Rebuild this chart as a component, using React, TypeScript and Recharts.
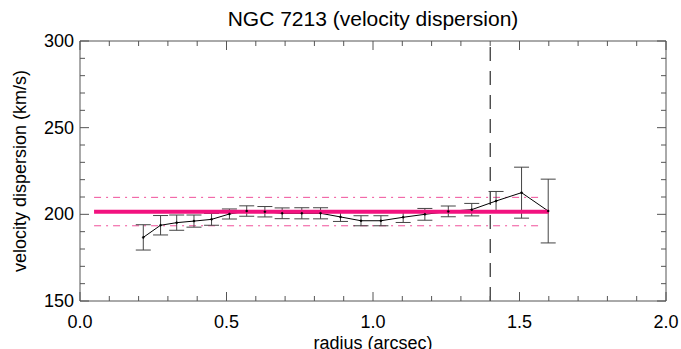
import React from 'react';
import { ComposedChart, Line, XAxis, YAxis, ErrorBar, ReferenceLine } from 'recharts';

const radius = [0.216, 0.275, 0.33, 0.389, 0.449, 0.51, 0.569, 0.631, 0.69, 0.757, 0.821, 0.889, 0.959, 1.027, 1.103, 1.177, 1.257, 1.337, 1.42, 1.507, 1.598];
const sigma = [186.7, 193.7, 195.2, 196.1, 197.1, 200.2, 201.9, 201.5, 200.6, 200.6, 200.6, 198.5, 196.3, 196.3, 198.3, 200.0, 201.7, 202.7, 207.7, 212.5, 201.9];
const sigmaErr = [7.3, 5.6, 4.4, 3.5, 3.4, 2.9, 3.0, 3.0, 3.1, 3.2, 3.2, 2.6, 2.9, 2.9, 3.0, 3.4, 3.1, 3.6, 5.5, 14.7, 18.4];

const meanSigma = 201.5;
const upperSigma = 209.8;
const lowerSigma = 193.4;
const fitStart = 0.048;
const fitEnd = 1.6;
const bandEnd = 1.58;
const cutRadius = 1.4;

const xTicks = [0, 0.1, 0.2, 0.3, 0.4, 0.5, 0.6, 0.7, 0.8, 0.9, 1.0, 1.1, 1.2, 1.3, 1.4, 1.5, 1.6, 1.7, 1.8, 1.9, 2.0];
const xMajor = [0, 0.5, 1.0, 1.5, 2.0];
const yTicks = [150, 160, 170, 180, 190, 200, 210, 220, 230, 240, 250, 260, 270, 280, 290, 300];
const yMajor = [150, 200, 250, 300];

const data = radius.map((r, i) => ({ r, s: sigma[i], e: sigmaErr[i] }));

const FONT = '"Liberation Sans", Arial, Helvetica, sans-serif';
const AXIS = '#555';
const MAJOR = 9;
const MINOR = 5;

const isMajor = (v: number, list: number[]) => list.some((m) => Math.abs(m - v) < 1e-6);

const BottomTick = (p: any) => {
  const v = p.payload.value;
  const maj = isMajor(v, xMajor);
  return (
    <g>
      <line x1={p.x} x2={p.x} y1={p.y} y2={p.y - (maj ? MAJOR : MINOR)} stroke={AXIS} strokeWidth={1} />
      {maj && (
        <text x={p.x} y={p.y + 27} textAnchor="middle" fontSize={18} fontFamily={FONT} fill="#000">
          {v.toFixed(1)}
        </text>
      )}
    </g>
  );
};

const TopTick = (p: any) => {
  const v = p.payload.value;
  const maj = isMajor(v, xMajor);
  return <line x1={p.x} x2={p.x} y1={p.y} y2={p.y + (maj ? MAJOR : MINOR)} stroke={AXIS} strokeWidth={1} />;
};

const LeftTick = (p: any) => {
  const v = p.payload.value;
  const maj = isMajor(v, yMajor);
  return (
    <g>
      <line x1={p.x} x2={p.x + (maj ? MAJOR : MINOR)} y1={p.y} y2={p.y} stroke={AXIS} strokeWidth={1} />
      {maj && (
        <text x={p.x - 6} y={p.y + 6} textAnchor="end" fontSize={18} fontFamily={FONT} fill="#000">
          {v}
        </text>
      )}
    </g>
  );
};

const RightTick = (p: any) => {
  const v = p.payload.value;
  const maj = isMajor(v, yMajor);
  return <line x1={p.x} x2={p.x - (maj ? MAJOR : MINOR)} y1={p.y} y2={p.y} stroke={AXIS} strokeWidth={1} />;
};

export default function App() {
  return (
    <div style={{ position: 'fixed', left: 0, top: 0, width: 681, height: 349, background: '#fff' }}>
      <ComposedChart width={681} height={349} data={data} margin={{ top: 40, right: 14, bottom: 47, left: 79 }}>
        <XAxis
          xAxisId="b"
          dataKey="r"
          type="number"
          domain={[0, 2]}
          ticks={xTicks}
          interval={0}
          height={1}
          tickSize={0}
          tickMargin={0}
          tick={BottomTick}
          stroke={AXIS}
          allowDataOverflow
        />
        <XAxis
          xAxisId="t"
          orientation="top"
          dataKey="r"
          type="number"
          domain={[0, 2]}
          ticks={xTicks}
          interval={0}
          height={1}
          tickSize={0}
          tickMargin={0}
          tick={TopTick}
          stroke={AXIS}
          allowDataOverflow
        />
        <YAxis
          yAxisId="l"
          type="number"
          domain={[150, 300]}
          ticks={yTicks}
          interval={0}
          width={1}
          tickSize={0}
          tickMargin={0}
          tick={LeftTick}
          stroke={AXIS}
          allowDataOverflow
        />
        <YAxis
          yAxisId="r"
          orientation="right"
          type="number"
          domain={[150, 300]}
          ticks={yTicks}
          interval={0}
          width={1}
          tickSize={0}
          tickMargin={0}
          tick={RightTick}
          stroke={AXIS}
          allowDataOverflow
        />
        <ReferenceLine
          xAxisId="b"
          yAxisId="l"
          segment={[{ x: fitStart, y: upperSigma }, { x: bandEnd, y: upperSigma }]}
          stroke="#f0509a"
          strokeWidth={1}
          strokeDasharray="7 5 2 5"
        />
        <ReferenceLine
          xAxisId="b"
          yAxisId="l"
          segment={[{ x: fitStart, y: lowerSigma }, { x: bandEnd, y: lowerSigma }]}
          stroke="#f0509a"
          strokeWidth={1}
          strokeDasharray="7 5 2 5"
        />
        <ReferenceLine
          xAxisId="b"
          yAxisId="l"
          x={cutRadius}
          stroke="#000"
          strokeWidth={1}
          strokeDasharray="14 10"
        />
        <Line
          xAxisId="b"
          yAxisId="l"
          dataKey="s"
          stroke="#000"
          strokeWidth={1}
          dot={{ r: 1, fill: '#000', stroke: '#000', strokeWidth: 0.5 }}
          isAnimationActive={false}
        >
          <ErrorBar dataKey="e" direction="y" width={7.5} stroke="#444" strokeWidth={1} isAnimationActive={false} />
        </Line>
        <ReferenceLine
          xAxisId="b"
          yAxisId="l"
          segment={[{ x: fitStart, y: meanSigma }, { x: fitEnd, y: meanSigma }]}
          stroke="#f2127f"
          strokeWidth={4}
        />
      </ComposedChart>
      <svg width={681} height={349} style={{ position: 'absolute', left: 0, top: 0, pointerEvents: 'none' }}>
        <text x={373} y={26} textAnchor="middle" fontSize={21} fontFamily={FONT} fill="#000">
          NGC 7213 (velocity dispersion)
        </text>
        <text x={373} y={349} textAnchor="middle" fontSize={18} fontFamily={FONT} fill="#000">
          radius (arcsec)
        </text>
        <text
          x={0}
          y={0}
          transform="translate(26,171) rotate(-90)"
          textAnchor="middle"
          fontSize={18}
          fontFamily={FONT}
          fill="#000"
        >
          velocity dispersion (km/s)
        </text>
      </svg>
    </div>
  );
}
